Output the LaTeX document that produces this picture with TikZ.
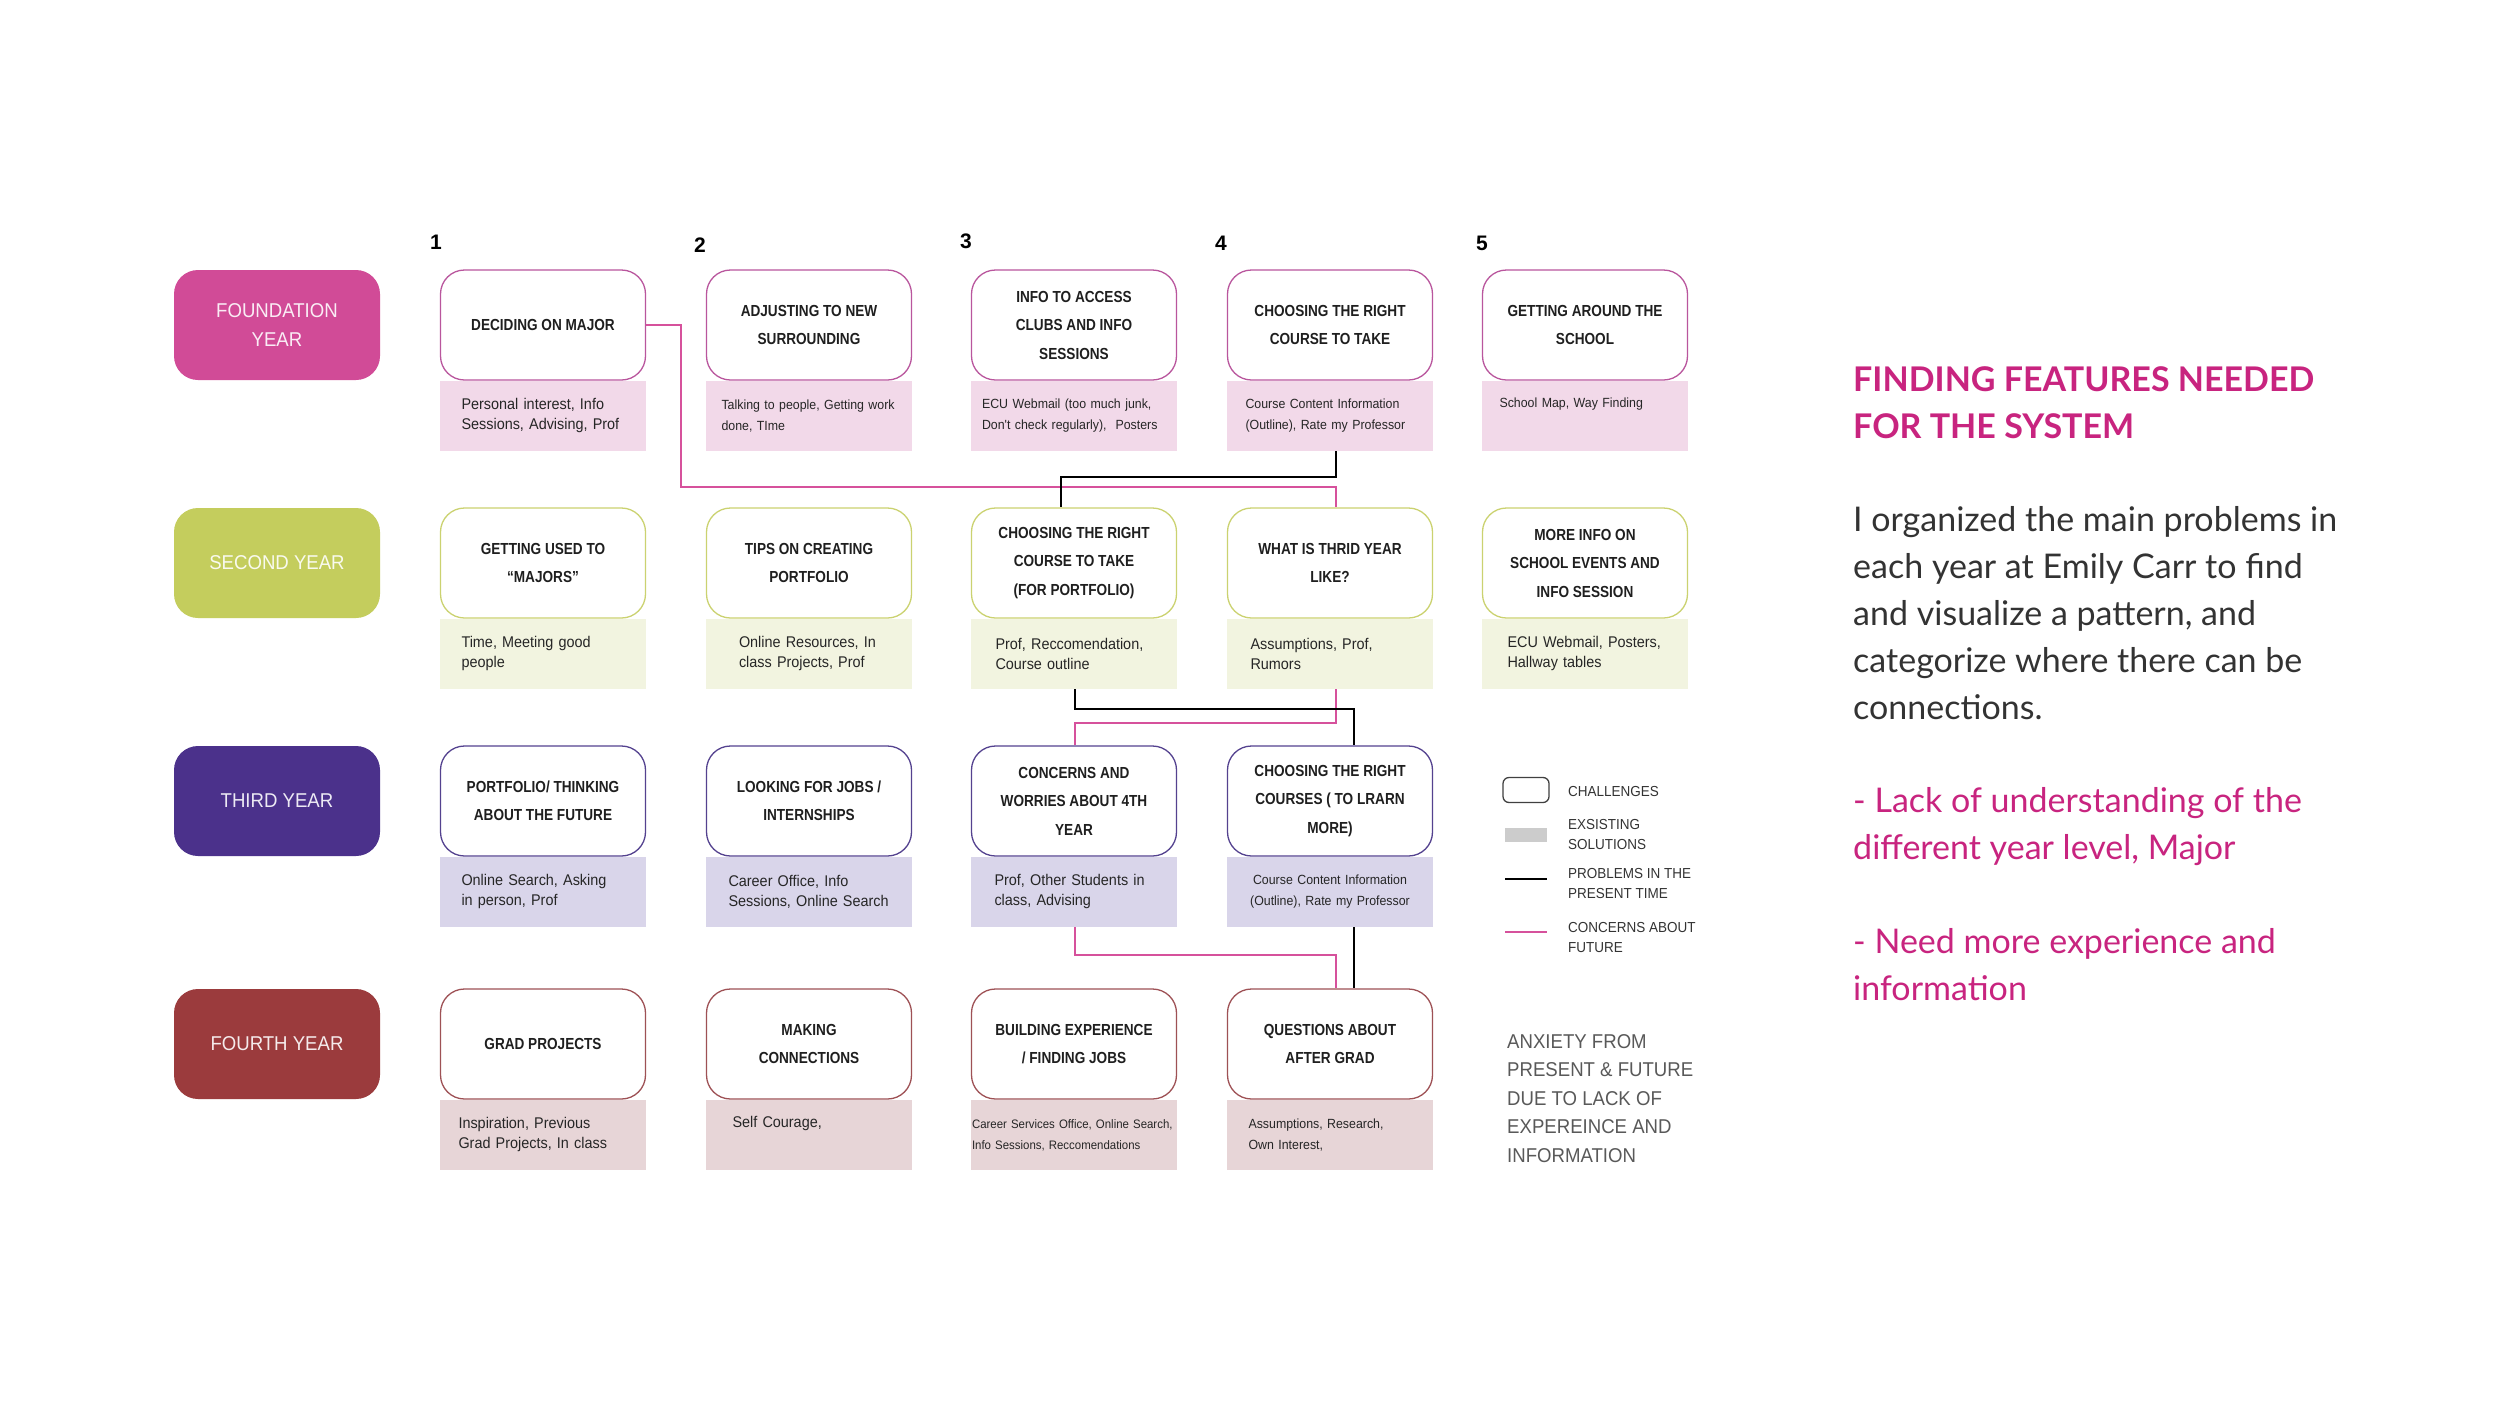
\documentclass[tikz,border=0pt]{standalone}
\usepackage{fontspec}
\setmainfont{Liberation Sans}
\newfontfamily\robo[FakeStretch=0.93]{Liberation Sans}
\newfontfamily\robocap[FakeStretch=0.85]{Liberation Sans}
\newfontfamily\latofont{Lato}
\definecolor{fyear}{HTML}{D14B97}
\definecolor{fline}{HTML}{B9569D}
\definecolor{fsol}{HTML}{F2D9E9}
\definecolor{syear}{HTML}{C4CD5D}
\definecolor{sline}{HTML}{CBD270}
\definecolor{ssol}{HTML}{F2F4E0}
\definecolor{tyear}{HTML}{4B318B}
\definecolor{tline}{HTML}{54428F}
\definecolor{tsol}{HTML}{D9D5EA}
\definecolor{oyear}{HTML}{9B3B3D}
\definecolor{oline}{HTML}{9E5155}
\definecolor{osol}{HTML}{E7D5D7}
\definecolor{cpink}{HTML}{D6519C}
\definecolor{tpink}{HTML}{C8247F}
\tikzset{
	yearbox/.style={fill=#1, rounded corners=24pt, minimum width=206pt, minimum height=110pt, inner sep=0pt, align=center, text=white!90!#1, font=\robo\fontsize{20}{28.5}\selectfont},
	challenge/.style={draw=#1, line width=1.3pt, fill=white, rounded corners=24pt, minimum width=205pt, minimum height=110pt, inner sep=0pt, align=center, text=black!88, font=\robocap\bfseries\fontsize{16}{28.5}\selectfont},
	solution/.style={fill=#1, anchor=north, minimum width=206pt, minimum height=70pt, inner sep=0pt, text width=163pt, align=left, text=black!85, font=\robo\fontsize{15.5}{20}\selectfont},
	smalltext/.style={font=\robo\fontsize{13.3}{21}\selectfont},
	tinytext/.style={font=\robo\fontsize{12.3}{21}\selectfont},
	nowline/.style={draw=black, line width=2.6pt},
	futureline/.style={draw=cpink, line width=2.6pt},
	yearno/.style={font=\bfseries\fontsize{21}{21}\selectfont, inner sep=0pt},
	keytext/.style={anchor=west, align=left, inner sep=0pt, text=black!80, font=\robo\fontsize{14.5}{20}\selectfont},
	sidetext/.style={anchor=north west, align=left, inner sep=0pt, font=\latofont\fontsize{34}{47}\selectfont}
}
\begin{document}
\begin{tikzpicture}[x=1pt,y=-1pt]
	\useasboundingbox (0,0) rectangle (2500,1406);
	\fill[white] (0,0) rectangle (2500,1406);

	\node[yearno] (n1) at (436,242) {1};
	\node[yearno] (n2) at (700,245) {2};
	\node[yearno] (n3) at (966,241) {3};
	\node[yearno] (n4) at (1221,243) {4};
	\node[yearno] (n5) at (1482,243) {5};

	\node[yearbox=fyear] (year1) at (277,325) {FOUNDATION\\YEAR};
	\node[challenge=fline] (c11) at (543,325) {DECIDING ON MAJOR};
	\node[challenge=fline] (c12) at (809,325) {ADJUSTING TO NEW\\SURROUNDING};
	\node[challenge=fline] (c13) at (1074,325) {INFO TO ACCESS\\CLUBS AND INFO\\SESSIONS};
	\node[challenge=fline] (c14) at (1330,325) {CHOOSING THE RIGHT\\COURSE TO TAKE};
	\node[challenge=fline] (c15) at (1585,325) {GETTING AROUND THE\\SCHOOL};
	\node[solution=fsol] (s11) at (c11.south) {Personal interest, Info\\Sessions, Advising, Prof};
	\node[solution=fsol, smalltext, text width=175pt] (s12) at (c12.south) {Talking to people, Getting work\\done, TIme};
	\node[solution=fsol, smalltext, text width=184pt] (s13) at (c13.south) {ECU Webmail (too much junk,\\Don't check regularly),~ Posters};
	\node[solution=fsol, smalltext, text width=169pt] (s14) at (c14.south) {Course Content Information\\(Outline), Rate my Professor};
	\node[solution=fsol, smalltext, text width=171pt] (s15) at (c15.south) {School Map, Way Finding\\ \strut};

	\node[yearbox=syear] (year2) at (277,563) {SECOND YEAR};
	\node[challenge=sline] (c21) at (543,563) {GETTING USED TO\\“MAJORS”};
	\node[challenge=sline] (c22) at (809,563) {TIPS ON CREATING\\PORTFOLIO};
	\node[challenge=sline] (c23) at (1074,563) {CHOOSING THE RIGHT\\COURSE TO TAKE\\(FOR PORTFOLIO)};
	\node[challenge=sline] (c24) at (1330,563) {WHAT IS THRID YEAR\\LIKE?};
	\node[challenge=sline] (c25) at (1585,563) {MORE INFO ON\\SCHOOL EVENTS AND\\INFO SESSION};
	\node[solution=ssol] (s21) at (c21.south) {Time, Meeting good\\people};
	\node[solution=ssol, text width=140pt] (s22) at (c22.south) {Online Resources, In\\class Projects, Prof};
	\node[solution=ssol, text width=157pt] (s23) at (c23.south) {Prof, Reccomendation,\\Course outline};
	\node[solution=ssol, text width=159pt] (s24) at (c24.south) {Assumptions, Prof,\\Rumors};
	\node[solution=ssol, text width=155pt] (s25) at (c25.south) {ECU Webmail, Posters,\\Hallway tables};

	\node[yearbox=tyear] (year3) at (277,801) {THIRD YEAR};
	\node[challenge=tline] (c31) at (543,801) {PORTFOLIO/ THINKING\\ABOUT THE FUTURE};
	\node[challenge=tline] (c32) at (809,801) {LOOKING FOR JOBS /\\INTERNSHIPS};
	\node[challenge=tline] (c33) at (1074,801) {CONCERNS AND\\WORRIES ABOUT 4TH\\YEAR};
	\node[challenge=tline] (c34) at (1330,801) {CHOOSING THE RIGHT\\COURSES ( TO LRARN\\MORE)};
	\node[solution=tsol] (s31) at (c31.south) {Online Search, Asking\\in person, Prof};
	\node[solution=tsol, text width=161pt] (s32) at (c32.south) {Career Office, Info\\Sessions, Online Search};
	\node[solution=tsol, text width=159pt] (s33) at (c33.south) {Prof, Other Students in\\class, Advising};
	\node[solution=tsol, smalltext, text width=185pt, align=center] (s34) at (c34.south) {Course Content Information\\(Outline), Rate my Professor};

	\node[yearbox=oyear] (year4) at (277,1044) {FOURTH YEAR};
	\node[challenge=oline] (c41) at (543,1044) {GRAD PROJECTS};
	\node[challenge=oline] (c42) at (809,1044) {MAKING\\CONNECTIONS};
	\node[challenge=oline] (c43) at (1074,1044) {BUILDING EXPERIENCE\\/ FINDING JOBS};
	\node[challenge=oline] (c44) at (1330,1044) {QUESTIONS ABOUT\\AFTER GRAD};
	\node[solution=osol, text width=169pt] (s41) at (c41.south) {Inspiration, Previous\\Grad Projects, In class};
	\node[solution=osol, text width=153pt] (s42) at (c42.south) {Self Courage,\\ \strut};
	\node[solution=osol, tinytext, text width=204pt] (s43) at (c43.south) {Career Services Office, Online Search,\\Info Sessions, Reccomendations};
	\node[solution=osol, smalltext, text width=163pt] (s44) at (c44.south) {Assumptions, Research,\\Own Interest,};

	\draw[futureline] (c11.east) -| (681,487) -| ([xshift=6pt]c24.north);
	\draw[futureline] ([xshift=6pt]s24.south) |- (1075,723) -- ([xshift=1pt]c33.north);
	\draw[futureline] ([xshift=1pt]s33.south) |- (1336,955) -- ([xshift=6pt]c44.north);
	\draw[nowline] ([xshift=6pt]s14.south) |- (1061,477) -- ([xshift=-13pt]c23.north);
	\draw[nowline] ([xshift=1pt]s23.south) |- (1354,709) -- ([xshift=24pt]c34.north);
	\draw[nowline] ([xshift=24pt]s34.south) -- ([xshift=24pt]c44.north);

	\node[draw=black!75, line width=1.3pt, rounded corners=6pt, minimum width=46pt, minimum height=25pt, inner sep=0pt] (keybox) at (1526,790) {};
	\node[fill=black!20, minimum width=42pt, minimum height=14pt, inner sep=0pt] (keysol) at (1526,835) {};
	\coordinate (nowa) at (1505,879);
	\coordinate (nowb) at (1547,879);
	\coordinate (futa) at (1505,932);
	\coordinate (futb) at (1547,932);
	\draw[line width=2pt] (nowa) -- (nowb);
	\draw[cpink, line width=2.4pt] (futa) -- (futb);
	\node[keytext] (keyc) at (1568,791) {CHALLENGES};
	\node[keytext] (keys) at (1568,834) {EXSISTING\\SOLUTIONS};
	\node[keytext] (keyp) at (1568,883) {PROBLEMS IN THE\\PRESENT TIME};
	\node[keytext] (keyf) at (1568,937) {CONCERNS ABOUT\\FUTURE};

	\node[anchor=north west, align=left, inner sep=0pt, text=black!65, font=\robo\fontsize{20}{28.5}\selectfont] (anxiety) at (1507,1034) {ANXIETY FROM\\PRESENT \& FUTURE\\DUE TO LACK OF\\EXPEREINCE AND\\INFORMATION};

	\node[sidetext, text=tpink, font=\latofont\bfseries\fontsize{34}{47}\selectfont] (title) at (1853,366) {FINDING FEATURES NEEDED\\FOR THE SYSTEM};
	\node[sidetext, text=black!80] (intro) at (1853,506) {I organized the main problems in\\each year at Emily Carr to find\\and visualize a pattern, and\\categorize where there can be\\connections.};
	\node[sidetext, text=tpink] (lack) at (1853,787) {- Lack of understanding of the\\different year level, Major};
	\node[sidetext, text=tpink] (need) at (1853,928) {- Need more experience and\\information};
\end{tikzpicture}
\end{document}
